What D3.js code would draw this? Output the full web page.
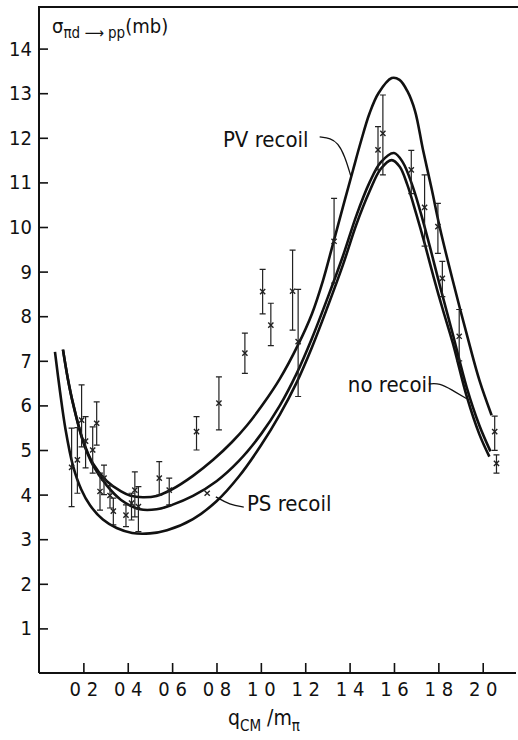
<!DOCTYPE html>
<html>
<head>
<meta charset="utf-8">
<script src="https://cdn.jsdelivr.net/npm/d3@7"></script>
<style>
  body { margin: 0; background: #fff; }
  svg { display: block; }
  text { font-family: "DejaVu Sans Condensed", "Liberation Sans Narrow", sans-serif; fill: #111; }
</style>
</head>
<body>
<div id="chart"></div>
<script>
// theory curves [q/m_pi, sigma (mb)]
var pvCurve = [[0.108,7.25],[0.13,6.6],[0.153,6.05],[0.198,5.22],[0.243,4.7],[0.306,4.3],[0.37,4.07],[0.41,3.98],
  [0.468,3.94],[0.53,3.97],[0.6,4.12],[0.694,4.42],[0.785,4.78],[0.87,5.18],[0.937,5.55],[1.01,6.03],[1.086,6.6],
  [1.167,7.35],[1.23,8.05],[1.28,8.8],[1.324,9.6],[1.37,10.45],[1.414,11.25],[1.45,11.9],[1.49,12.55],[1.53,13.0],
  [1.59,13.34],[1.625,13.3],[1.66,13.05],[1.695,12.6],[1.73,11.75],[1.77,10.85],[1.806,10.0],
  [1.865,8.8],[1.941,7.35],[1.986,6.55],[2.04,5.78]];
var noRecoilCurve = [[0.108,7.25],[0.13,6.6],[0.153,6.05],[0.198,5.2],[0.243,4.66],[0.306,4.2],[0.37,3.88],
  [0.455,3.67],[0.53,3.67],[0.6,3.77],[0.694,3.97],[0.8,4.3],[0.9,4.75],[1.0,5.35],[1.086,6.0],[1.16,6.7],
  [1.23,7.5],[1.3,8.4],[1.37,9.35],[1.43,10.25],[1.49,11.0],[1.54,11.45],[1.6,11.66],[1.64,11.45],[1.685,10.9],
  [1.73,10.15],[1.77,9.4],[1.806,8.7],[1.865,7.6],[1.928,6.4],[1.985,5.55],[2.035,4.97]];
var psCurve = [[0.072,7.2],[0.095,6.3],[0.12,5.45],[0.153,4.65],[0.19,4.12],[0.23,3.76],[0.288,3.44],[0.35,3.25],
  [0.42,3.14],[0.5,3.13],[0.577,3.2],[0.694,3.45],[0.8,3.85],[0.9,4.4],[1.0,5.1],[1.086,5.8],[1.16,6.5],[1.23,7.3],
  [1.3,8.2],[1.37,9.15],[1.43,10.05],[1.49,10.8],[1.54,11.3],[1.59,11.5],[1.626,11.35],[1.66,10.95],[1.7,10.3],
  [1.74,9.6],[1.78,8.85],[1.82,8.15],[1.865,7.4],[1.928,6.2],[1.985,5.35],[2.03,4.85]];

// measurements: q, sigma, lower, upper
var dataQ  = [0.147,0.173,0.192,0.21,0.242,0.26,0.275,0.293,0.32,0.335,0.392,0.417,0.432,0.448,0.542,0.587,
  0.71,0.758,0.811,0.928,1.008,1.045,1.143,1.168,1.33,1.528,1.55,1.678,1.738,1.798,1.818,1.894,2.054,2.062];
var dataV  = [4.61,4.78,5.67,5.2,5.0,5.6,4.07,4.37,3.98,3.63,3.54,3.81,4.1,3.73,4.37,4.1,
  5.41,4.03,6.05,7.17,8.55,7.8,8.56,7.43,9.68,11.73,12.1,11.28,10.44,10.01,8.85,7.55,5.41,4.7];
var dataLo = [3.73,4.03,5.07,4.6,4.48,5.11,3.65,4.0,3.7,3.32,3.28,3.43,3.5,3.17,3.99,3.77,
  5.0,4.03,5.45,6.72,8.05,7.34,7.69,6.2,8.74,11.28,11.17,10.75,9.57,9.41,8.44,7.0,4.99,4.48];
var dataHi = [5.49,5.5,6.46,5.75,5.52,6.08,4.48,4.66,4.2,3.92,3.77,4.03,4.51,4.18,4.74,4.37,
  5.75,4.03,6.64,7.62,9.05,8.29,9.48,8.6,10.64,12.25,12.96,11.72,11.17,10.53,9.23,8.15,5.76,4.89];

var xTicks = [0.2,0.4,0.6,0.8,1.0,1.2,1.4,1.6,1.8,2.0];
var yTicks = [1,2,3,4,5,6,7,8,9,10,11,12,13,14];

var w = 518, h = 740,
    p = {"top": 7, "left": 39, "bot": 673, "right": 516};

var svg = d3.select("#chart").append("svg")
  .attr("width", w)
  .attr("height", h)

var x = d3.scaleLinear().domain([0, 2.15]).range([p.left, p.right]);
var y = d3.scaleLinear().domain([0, 14]).range([p.bot, p.bot - 14 * 44.6]);

// frame
svg.append("path")
  .attr("d", "M" + p.left + "," + p.bot + "V" + p.top + "H" + w)
  .attr("fill", "none").attr("stroke", "#111").attr("stroke-width", 2);
svg.append("line")
  .attr("x1", p.left).attr("x2", p.right)
  .attr("y1", p.bot).attr("y2", p.bot)
  .attr("stroke", "#111").attr("stroke-width", 2);

var fmt = function(d){ return d3.format(".1f")(d).replace(".", " "); };

var xAxis = svg.append("g")
  .attr("transform", "translate(0," + p.bot + ")")
  .call(d3.axisBottom(x).tickValues(xTicks).tickFormat(fmt).tickSizeInner(-10).tickSizeOuter(0).tickPadding(9));
var yAxis = svg.append("g")
  .attr("transform", "translate(" + p.left + ",0)")
  .call(d3.axisLeft(y).tickValues(yTicks).tickSizeInner(-9).tickSizeOuter(0).tickPadding(7));

[xAxis, yAxis].forEach(function(g){
  g.select(".domain").remove();
  g.selectAll(".tick line").attr("stroke", "#111").attr("stroke-width", 1.6);
  g.selectAll(".tick text").attr("font-size", 20).attr("font-family", null).style("fill", "#111");
});

// curves
var line = d3.line()
  .x(function(d){ return x(d[0]) })
  .y(function(d){ return y(d[1]) })
  .curve(d3.curveCatmullRom.alpha(0.5));

[pvCurve, noRecoilCurve, psCurve].forEach(function(c){
  svg.append("path")
    .attr("d", line(c))
    .attr("fill", "none")
    .attr("stroke", "#111")
    .attr("stroke-width", 2.6)
    .attr("stroke-linejoin", "round");
});

// error bars and crosses
var pts = dataQ.map(function(q, i){ return {q: q, v: dataV[i], lo: dataLo[i], hi: dataHi[i]} });
var g = svg.append("g").attr("stroke", "#222");

g.selectAll(".bar")
  .data(pts.filter(function(d){ return d.hi > d.lo }))
  .enter().append("path")
    .attr("d", function(d){
      var cx = x(d.q), a = y(d.hi), b = y(d.lo);
      return "M" + (cx - 3) + "," + a + "H" + (cx + 3) +
             "M" + cx + "," + a + "V" + b +
             "M" + (cx - 3) + "," + b + "H" + (cx + 3);
    })
    .attr("fill", "none")
    .attr("stroke-width", 1.2);

g.selectAll(".cross")
  .data(pts)
  .enter().append("path")
    .attr("d", function(d){
      var cx = x(d.q), cy = y(d.v), s = 2.6;
      return "M" + (cx - s) + "," + (cy - s) + "L" + (cx + s) + "," + (cy + s) +
             "M" + (cx - s) + "," + (cy + s) + "L" + (cx + s) + "," + (cy - s);
    })
    .attr("stroke-width", 1.4);

// curve labels with leader lines
var labels = [
  {text: "PV recoil", q: 0.829, v: 11.79, lead: [[1.265,12.02],[1.315,11.99],[1.347,11.88],[1.378,11.6],[1.405,11.15]]},
  {text: "no recoil", q: 1.392, v: 6.3, lead: [[1.757,6.48],[1.806,6.5],[1.86,6.35],[1.928,6.15]]},
  {text: "PS recoil", q: 0.937, v: 3.63, lead: [[0.797,3.95],[0.86,3.77],[0.923,3.72]]}
];
var lead = d3.line()
  .x(function(d){ return x(d[0]) })
  .y(function(d){ return y(d[1]) })
  .curve(d3.curveBasis);

labels.forEach(function(l){
  svg.append("text")
    .attr("x", x(l.q))
    .attr("y", y(l.v))
    .attr("font-size", 22)
    .text(l.text);
  svg.append("path")
    .attr("d", lead(l.lead))
    .attr("fill", "none")
    .attr("stroke", "#111")
    .attr("stroke-width", 1.3);
});

// axis titles
var yt = svg.append("text").attr("x", 52).attr("y", 33).attr("font-size", 20);
yt.append("tspan").text("σ");
yt.append("tspan").attr("font-size", 15).attr("dy", 5).text("πd ");
yt.append("tspan").attr("font-size", 15).text("⟶ pp");
yt.append("tspan").attr("dy", -5).text("(mb)");

var xt = svg.append("text").attr("x", 228).attr("y", 725).attr("font-size", 21);
xt.append("tspan").text("q");
xt.append("tspan").attr("font-size", 15).attr("dy", 6).text("CM");
xt.append("tspan").attr("dy", -6).text(" /m");
xt.append("tspan").attr("font-size", 15).attr("dy", 6).text("π");
</script>
</body>
</html>
